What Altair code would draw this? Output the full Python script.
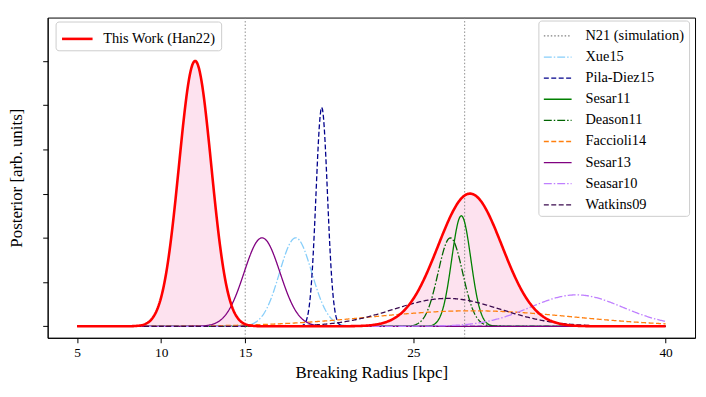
import numpy as np
import pandas as pd
import altair as alt

# ---- data (Gaussian posteriors: centre, width, peak height) ----
series_names = ["Xue15", "Pila-Diez15", "Sesar11", "Deason11", "Faccioli14",
                "Sesar13", "Seasar10", "Watkins09"]
series_centers = [18.0, 19.55, 27.85, 27.2, 28.5, 16.0, 34.7, 27.0]
series_sigmas = [0.96, 0.34, 0.57, 0.73, 6.0, 1.07, 2.75, 3.2]
series_peaks = [2.0, 4.95, 2.5, 2.0, 0.35, 2.0, 0.71, 0.63]

# This Work (Han22): two-component posterior
han_centers = [12.02, 28.37]
han_sigmas = [0.96, 1.9]
han_peaks = [6.0, 3.0]
han_label = "This Work (Han22)"

# N21 (simulation) break radii
n21_label = "N21 (simulation)"
n21_values = [15.0, 28.05]

x_ticks = [5, 10, 15, 25, 40]
y_ticks = [0, 1, 2, 3, 4, 5, 6]

legend_order = [n21_label] + series_names
legend_colors = ["#808080", "#87cefa", "#00008b", "#008000", "#006400",
                 "#ff7f0e", "#800080", "#bf7fff", "#3a0a4e"]
legend_dashes = [[1.5, 2], [8, 2, 1.5, 2], [5, 2.5], [1, 0], [8, 2, 1.5, 2],
                 [5, 2.5], [1, 0], [8, 2, 1.5, 2], [5, 2.5]]

# ---- build tables ----
xs = np.linspace(5, 40, 701)
rows = []
for n, c, s, p in zip(series_names, series_centers, series_sigmas, series_peaks):
    ys = p * np.exp(-0.5 * ((xs - c) / s) ** 2)
    rows.append(pd.DataFrame({"x": xs, "y": ys, "name": n}))
df_lines = pd.concat(rows, ignore_index=True)

han_y = np.zeros_like(xs)
for c, s, p in zip(han_centers, han_sigmas, han_peaks):
    han_y = han_y + p * np.exp(-0.5 * ((xs - c) / s) ** 2)
df_han = pd.DataFrame({"x": xs, "y": han_y, "label": han_label})

df_n21 = pd.DataFrame({"x": n21_values, "name": n21_label})

FONT = "Liberation Serif"
LINE_SYMBOL = "M-1,0L1.8,0"   # legend line sample, longer than its layout box
xscale = alt.Scale(domain=[3.25, 41.75], nice=False, zero=False)
yscale = alt.Scale(domain=[-0.26, 6.98], nice=False, zero=False)

x_axis = alt.Axis(values=x_ticks, title="Breaking Radius [kpc]", grid=False,
                  tickSize=5, labelPadding=3, titlePadding=6)
y_axis = alt.Axis(values=y_ticks, labels=False, title="Posterior [arb. units]",
                  grid=False, tickSize=5, titlePadding=17)

color_scale = alt.Scale(domain=legend_order, range=legend_colors)
dash_scale = alt.Scale(domain=legend_order, range=legend_dashes)

right_legend = alt.Legend(
    orient="none", legendX=495, legendY=3, title=None,
    symbolType=LINE_SYMBOL, symbolSize=400, symbolStrokeWidth=1.3,
    symbolFillColor="transparent",
    labelFont=FONT, labelFontSize=14.5, labelColor="black", labelOffset=21,
    rowPadding=3.3, padding=4.5, fillColor="white", strokeColor="#cccccc",
    cornerRadius=3,
)

area = alt.Chart(df_han).mark_area(color="#fde2ef", opacity=1).encode(
    x=alt.X("x:Q", scale=xscale, axis=x_axis),
    y=alt.Y("y:Q", scale=yscale, axis=y_axis),
)

rules = alt.Chart(df_n21).mark_rule(strokeWidth=0.9).encode(
    x=alt.X("x:Q", scale=xscale),
    color=alt.Color("name:N", scale=color_scale, legend=right_legend),
    strokeDash=alt.StrokeDash("name:N", scale=dash_scale, legend=right_legend),
)

lines = alt.Chart(df_lines).mark_line(strokeWidth=1.3).encode(
    x=alt.X("x:Q", scale=xscale),
    y=alt.Y("y:Q", scale=yscale),
    color=alt.Color("name:N", scale=color_scale, legend=right_legend),
    strokeDash=alt.StrokeDash("name:N", scale=dash_scale, legend=right_legend),
    detail="name:N",
)

han_line = alt.Chart(df_han).mark_line(color="red").encode(
    x=alt.X("x:Q", scale=xscale),
    y=alt.Y("y:Q", scale=yscale),
    strokeWidth=alt.StrokeWidth(
        "label:N",
        scale=alt.Scale(domain=[han_label], range=[2.6, 2.6]),
        legend=alt.Legend(
            orient="none", legendX=8, legendY=4, title=None,
            symbolType=LINE_SYMBOL, symbolSize=484, symbolStrokeColor="red",
            symbolFillColor="transparent",
            labelFont=FONT, labelFontSize=14.5, labelColor="black", labelOffset=18,
            padding=5, fillColor="white", strokeColor="#cccccc", cornerRadius=3,
        ),
    ),
)

chart = alt.layer(area, rules, lines, han_line).properties(
    width=653, height=323,
    autosize=alt.AutoSizeParams(type="none"),
    padding={"left": 40, "top": 8, "right": 3, "bottom": 50},
).configure_view(
    stroke="black", strokeWidth=1,
).configure_axis(
    labelFont=FONT, titleFont=FONT, labelFontSize=13.5, titleFontSize=17,
    titleFontWeight="normal", labelColor="black", titleColor="black",
    domainColor="black", tickColor="black", domainWidth=1, tickWidth=1,
)

chart.save("out.html", embed_options={"renderer": "svg", "actions": False})
